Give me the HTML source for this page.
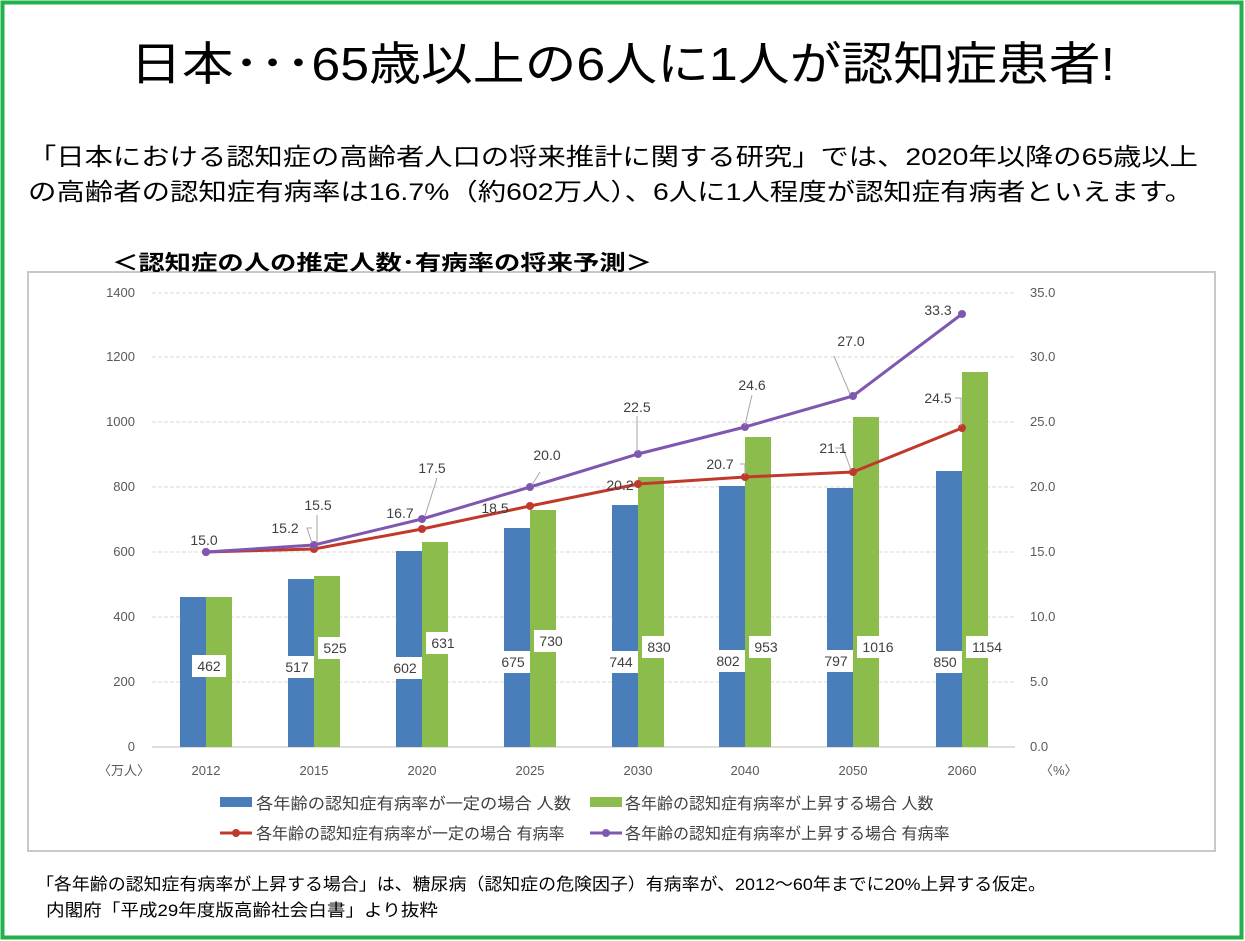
<!DOCTYPE html>
<html><head><meta charset="utf-8"><style>
body{margin:0;width:1245px;height:941px;background:#fff;overflow:hidden}
svg{display:block}
</style></head><body>
<svg width="1245" height="941" xmlns="http://www.w3.org/2000/svg" font-family="'Liberation Sans','Noto Sans CJK JP',sans-serif">
<rect x="2.5" y="2.5" width="1239" height="935" fill="#fff" stroke="#22b14c" stroke-width="4"/>
<text x="130" y="80" font-size="46" fill="#000" textLength="985" lengthAdjust="spacingAndGlyphs">日本･･･65歳以上の6人に1人が認知症患者!</text>
<text x="28" y="165" font-size="24" fill="#000" textLength="1170" lengthAdjust="spacingAndGlyphs">「日本における認知症の高齢者人口の将来推計に関する研究」では、2020年以降の65歳以上</text>
<text x="28" y="200" font-size="24" fill="#000" textLength="1165" lengthAdjust="spacingAndGlyphs">の高齢者の認知症有病率は16.7%（約602万人）、6人に1人程度が認知症有病者といえます。</text>
<rect x="28" y="272" width="1187" height="579" fill="none" stroke="#c8c8c8" stroke-width="2"/>
<text x="112" y="270" font-size="21" font-weight="bold" fill="#000" textLength="540" lengthAdjust="spacingAndGlyphs">＜認知症の人の推定人数･有病率の将来予測＞</text>
<g stroke="#d9d9d9" stroke-width="1" stroke-dasharray="4,2">
<line x1="152" x2="1015" y1="293" y2="293"/><line x1="152" x2="1015" y1="357" y2="357"/><line x1="152" x2="1015" y1="422" y2="422"/><line x1="152" x2="1015" y1="487" y2="487"/><line x1="152" x2="1015" y1="552" y2="552"/><line x1="152" x2="1015" y1="617" y2="617"/><line x1="152" x2="1015" y1="682" y2="682"/>
</g>
<line x1="152" x2="1015" y1="747" y2="747" stroke="#bfbfbf"/>
<g font-size="13" fill="#595959" text-anchor="end">
<text x="135" y="297">1400</text><text x="135" y="361">1200</text><text x="135" y="426">1000</text><text x="135" y="491">800</text><text x="135" y="556">600</text><text x="135" y="621">400</text><text x="135" y="686">200</text><text x="135" y="751">0</text>
</g>
<g font-size="13" fill="#595959">
<text x="1030" y="297">35.0</text><text x="1030" y="361">30.0</text><text x="1030" y="426">25.0</text><text x="1030" y="491">20.0</text><text x="1030" y="556">15.0</text><text x="1030" y="621">10.0</text><text x="1030" y="686">5.0</text><text x="1030" y="751">0.0</text>
<text x="98" y="775">〈万人〉</text><text x="1040" y="775">〈%〉</text>
</g>
<g font-size="13" fill="#595959" text-anchor="middle">
<text x="206" y="775">2012</text><text x="314" y="775">2015</text><text x="422" y="775">2020</text><text x="530" y="775">2025</text><text x="638" y="775">2030</text><text x="745" y="775">2040</text><text x="853" y="775">2050</text><text x="962" y="775">2060</text>
</g>
<g fill="#4a7ebb">
<rect x="180" y="597" width="26" height="150"/><rect x="288" y="579" width="26" height="168"/><rect x="396" y="551" width="26" height="196"/><rect x="504" y="528" width="26" height="219"/><rect x="612" y="505" width="26" height="242"/><rect x="719" y="486" width="26" height="261"/><rect x="827" y="488" width="26" height="259"/><rect x="936" y="471" width="26" height="276"/>
</g>
<g fill="#8cbd4c">
<rect x="206" y="597" width="26" height="150"/><rect x="314" y="576" width="26" height="171"/><rect x="422" y="542" width="26" height="205"/><rect x="530" y="510" width="26" height="237"/><rect x="638" y="477" width="26" height="270"/><rect x="745" y="437" width="26" height="310"/><rect x="853" y="417" width="26" height="330"/><rect x="962" y="372" width="26" height="375"/>
</g>
<g fill="#fff">
<rect x="192" y="655" width="34" height="22"/><rect x="280" y="656" width="34" height="22"/><rect x="318" y="637" width="34" height="22"/><rect x="388" y="657" width="34" height="22"/><rect x="426" y="632" width="34" height="22"/>
<rect x="496" y="651" width="34" height="22"/><rect x="534" y="630" width="34" height="22"/><rect x="604" y="651" width="34" height="22"/><rect x="642" y="636" width="34" height="22"/>
<rect x="711" y="650" width="34" height="22"/><rect x="749" y="636" width="34" height="22"/><rect x="819" y="650" width="34" height="22"/><rect x="857" y="636" width="42" height="22"/><rect x="928" y="651" width="34" height="22"/><rect x="966" y="636" width="42" height="22"/>
</g>
<g font-size="14" fill="#404040" text-anchor="middle">
<text x="209" y="671">462</text><text x="297" y="672">517</text><text x="335" y="653">525</text><text x="405" y="673">602</text><text x="443" y="648">631</text>
<text x="513" y="667">675</text><text x="551" y="646">730</text><text x="621" y="667">744</text><text x="659" y="652">830</text>
<text x="728" y="666">802</text><text x="766" y="652">953</text><text x="836" y="666">797</text><text x="878" y="652">1016</text><text x="945" y="667">850</text><text x="987" y="652">1154</text>
</g>
<polyline fill="none" stroke="#c0392b" stroke-width="3" points="206,552 314,549 422,529 530,506 638,484 745,477 853,472 962,428"/>
<g fill="#c0392b"><circle cx="206" cy="552" r="4"/><circle cx="314" cy="549" r="4"/><circle cx="422" cy="529" r="4"/><circle cx="530" cy="506" r="4"/><circle cx="638" cy="484" r="4"/><circle cx="745" cy="477" r="4"/><circle cx="853" cy="472" r="4"/><circle cx="962" cy="428" r="4"/></g>
<polyline fill="none" stroke="#7e57b0" stroke-width="3" points="206,552 314,545 422,519 530,487 638,454 745,427 853,396 962,314"/>
<g fill="#7e57b0"><circle cx="206" cy="552" r="4"/><circle cx="314" cy="545" r="4"/><circle cx="422" cy="519" r="4"/><circle cx="530" cy="487" r="4"/><circle cx="638" cy="454" r="4"/><circle cx="745" cy="427" r="4"/><circle cx="853" cy="396" r="4"/><circle cx="962" cy="314" r="4"/></g>
<g stroke="#a6a6a6" fill="none">
<polyline points="312,528 307,528 312,543"/><polyline points="317,515 317,543"/><polyline points="437,478 425,516"/><polyline points="540,472 532,485"/><polyline points="637,416 637,452"/><polyline points="752,395 745,425"/><polyline points="834,356 850,394"/><polyline points="835,448 843,448 851,470"/><polyline points="955,398 961,398 961,426"/><polyline points="740,464 745,464 745,475"/>
</g>
<g font-size="14" fill="#404040" text-anchor="middle">
<text x="204" y="545">15.0</text><text x="285" y="533">15.2</text><text x="318" y="510">15.5</text><text x="400" y="518">16.7</text><text x="432" y="473">17.5</text><text x="495" y="513">18.5</text><text x="547" y="460">20.0</text><text x="620" y="490">20.2</text><text x="637" y="412">22.5</text><text x="720" y="469">20.7</text><text x="752" y="390">24.6</text><text x="833" y="453">21.1</text><text x="851" y="346">27.0</text><text x="938" y="403">24.5</text><text x="938" y="315">33.3</text>
</g>
<g font-size="16" fill="#404040">
<rect x="220" y="797" width="32" height="10" fill="#4a7ebb"/><text x="256" y="809" textLength="315" lengthAdjust="spacingAndGlyphs">各年齢の認知症有病率が一定の場合 人数</text>
<rect x="590" y="797" width="32" height="10" fill="#8cbd4c"/><text x="625" y="809">各年齢の認知症有病率が上昇する場合 人数</text>
<line x1="220" x2="252" y1="833" y2="833" stroke="#c0392b" stroke-width="3"/><circle cx="236" cy="833" r="4" fill="#c0392b"/><text x="256" y="839">各年齢の認知症有病率が一定の場合 有病率</text>
<line x1="590" x2="622" y1="833" y2="833" stroke="#7e57b0" stroke-width="3"/><circle cx="606" cy="833" r="4" fill="#7e57b0"/><text x="625" y="839">各年齢の認知症有病率が上昇する場合 有病率</text>
</g>
<text x="36" y="890" font-size="17" fill="#000" textLength="1010" lengthAdjust="spacingAndGlyphs">「各年齢の認知症有病率が上昇する場合」は、糖尿病（認知症の危険因子）有病率が、2012～60年までに20%上昇する仮定。</text>
<text x="46" y="916" font-size="17" fill="#000" textLength="392" lengthAdjust="spacingAndGlyphs">内閣府「平成29年度版高齢社会白書」より抜粋</text>
</svg>
</body></html>
